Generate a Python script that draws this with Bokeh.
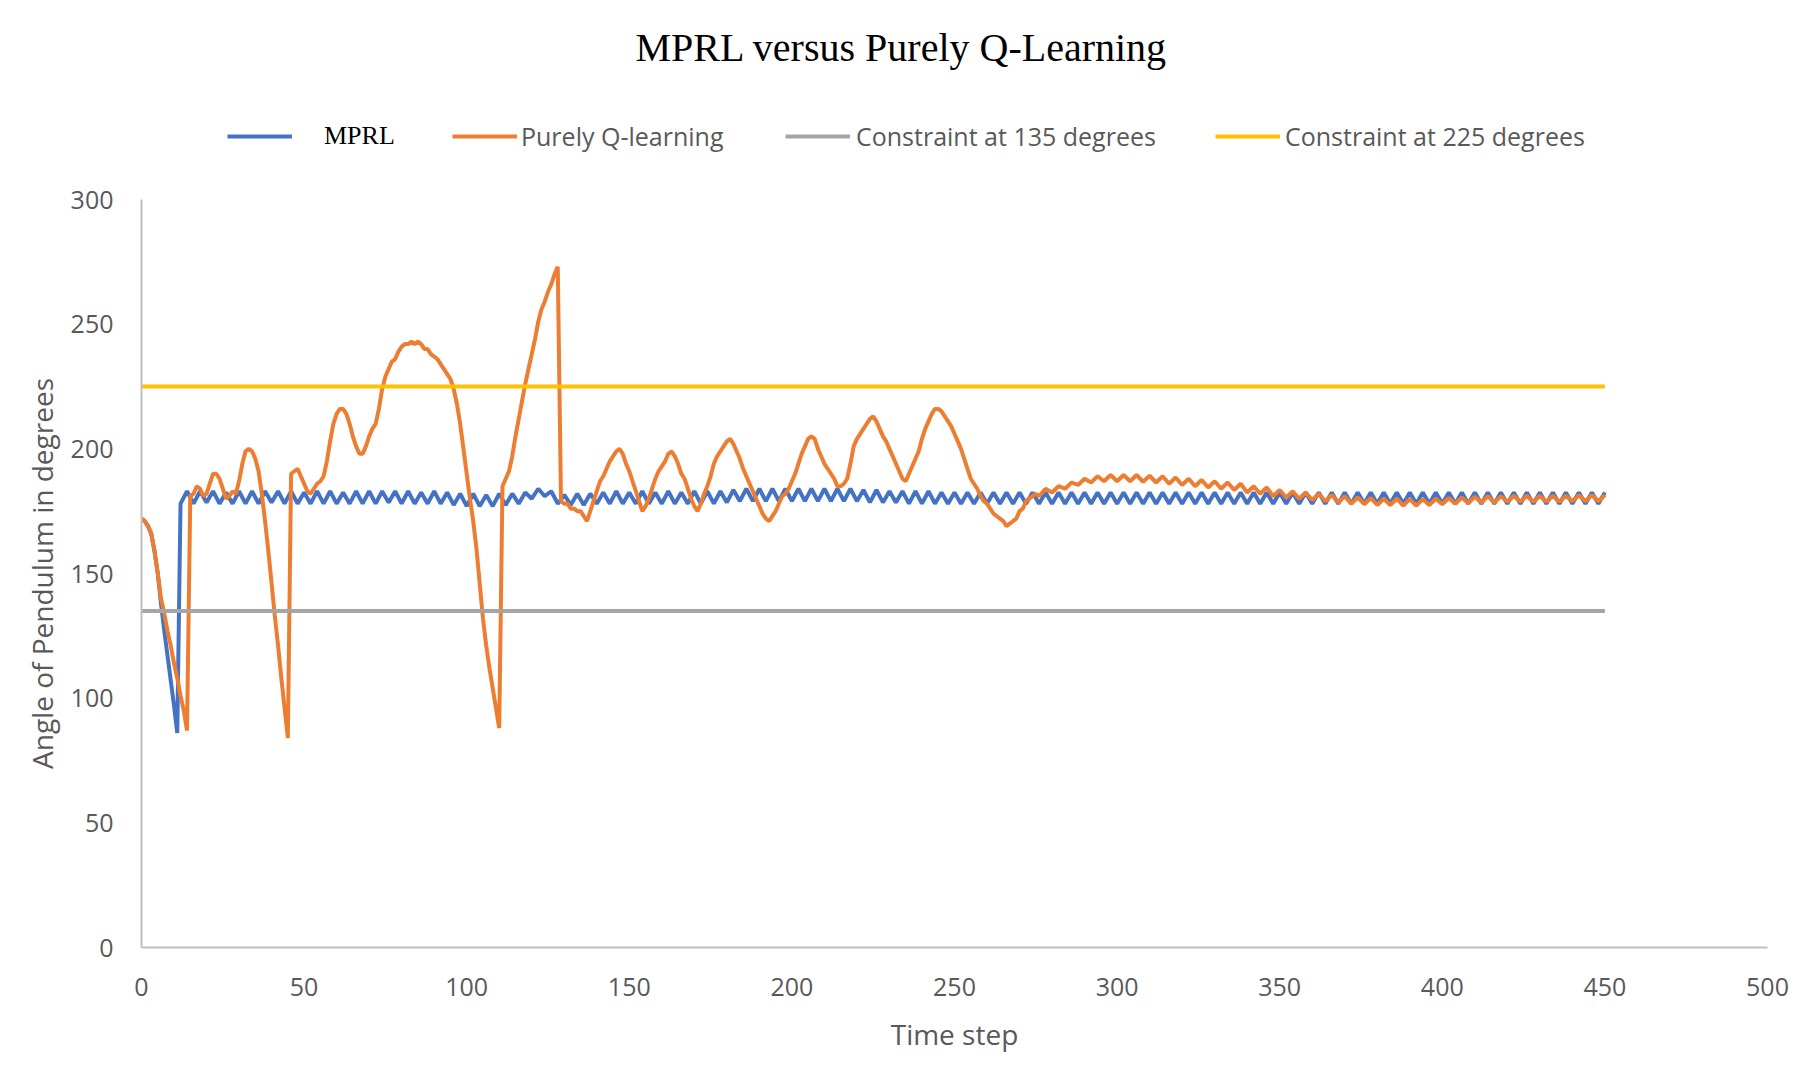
from bokeh.plotting import figure
from bokeh.layouts import column
from bokeh.models import Range1d, FixedTicker, Label, Legend, LegendItem
from bokeh.embed import file_html
from bokeh.resources import INLINE

# ---------------- data ----------------
x_ticks = [0, 50, 100, 150, 200, 250, 300, 350, 400, 450, 500]
y_ticks = [0, 50, 100, 150, 200, 250, 300]

# MPRL: first steps, then the steady oscillation (read every 2 time steps from t=12)
mprl_early = [172, 171, 169, 166, 159, 150, 138, 127, 117, 107, 97, 86]
mprl_osc = [
    178, 183, 178, 183, 178.5, 183, 178, 182.5, 178, 183, 178, 183, 178, 183, 178.5, 183, 178, 183, 178, 182.5,
    178, 183, 178, 183, 178, 182.5, 178, 183, 178, 183, 178, 183, 178.5, 183, 178, 183, 178, 182.5, 178, 183,
    178, 182.5, 177.5, 182, 177, 182, 177, 181.5, 177, 182, 177.5, 182, 178, 182.5, 180, 184, 181, 183, 178, 181.5,
    177.5, 182, 177.5, 182, 178, 182.5, 178, 183, 178, 182.5, 178, 183, 178, 182.5, 178, 183, 178, 182.5, 178, 183,
    178, 183, 178, 183, 178.5, 183.5, 179, 184, 179, 184, 179, 184, 179, 184, 179, 184, 179, 184, 179, 184,
    179, 184, 179, 184, 179, 183.5, 178.5, 183.5, 178.5, 183, 178.5, 183, 178, 183, 178, 183, 178, 182.5, 178, 182.5,
    178, 182.5, 178, 182.5, 178, 182.5, 178, 182.5, 178, 182.5, 178, 182.5, 178, 182.5, 178, 182.5, 178, 182.5, 178, 182.5,
    178, 182.5, 178, 182.5, 178, 182.5, 178, 182.5, 178, 182.5, 178, 182.5, 178, 182.5, 178, 182.5, 178, 182.5, 178, 182.5,
    178, 182.5, 178, 182.5, 178, 182.5, 178, 182.5, 178, 182.5, 178, 182.5, 178, 182.5, 178, 182.5, 178, 182.5, 178, 182.5,
    178, 182.5, 178, 182.5, 178, 182.5, 178, 182.5, 178, 182.5, 178, 182.5, 178, 182.5, 178, 182.5, 178, 182.5, 178, 182.5,
    178, 182.5, 178, 182.5, 178, 182.5, 178, 182.5, 178, 182.5, 178, 182.5, 178, 182.5, 178, 182.5, 178, 182.5, 178, 182.5,
]

# Purely Q-learning: every time step for t = 0..275
qlearn_early = [
    172, 171, 169, 166, 159, 150, 140, 134, 127, 121,
    114, 108, 101, 95, 87, 181, 182, 185, 184, 181,
    182, 186, 190, 190, 188, 184, 180, 181, 183, 182,
    187, 194, 199, 200, 199, 196, 191, 182, 171, 159,
    146, 133, 121, 108, 96, 84, 190, 191, 192, 189,
    186, 183, 182, 184, 186, 187, 189, 195, 203, 210,
    214, 216, 216, 214, 210, 205, 201, 198, 198, 201,
    205, 208, 210, 216, 224, 229, 232, 235, 236, 239,
    241, 242, 242, 243, 242, 243, 242, 240, 240, 238,
    237, 236, 234, 232, 230, 228, 224, 218, 210, 200,
    190, 180, 171, 160, 146, 132, 121, 112, 104, 96,
    88, 185, 188, 191, 197, 205, 212, 219, 226, 232,
    238, 244, 251, 256, 259, 263, 266, 270, 273, 179,
    178, 178, 176, 176, 175, 175, 173, 171, 175, 179,
    183, 187, 189, 192, 195, 197, 199, 200, 198, 194,
    191, 187, 183, 179, 175, 177, 180, 184, 188, 191,
    193, 195, 198, 199, 197, 194, 190, 188, 184, 180,
    177, 175, 178, 182, 185, 189, 194, 197, 199, 201,
    203, 204, 202, 199, 196, 192, 189, 186, 183, 180,
    177, 174, 172, 171, 173, 175, 178, 181, 182, 184,
    187, 190, 194, 198, 201, 204, 205, 204, 200, 197,
    194, 192, 190, 188, 185, 185, 186, 188, 194, 201,
    204, 206, 208, 210, 212, 213, 211, 208, 205, 203,
    200, 197, 194, 191, 188, 187, 190, 193, 196, 199,
    204, 208, 211, 214, 216, 216, 215, 213, 211, 209,
    206, 203, 200, 196, 192, 188, 186, 184, 181, 179,
    178, 176, 174, 173, 172, 171, 169, 170, 171, 172,
    175, 176, 179, 180, 181, 182,
]
# Purely Q-learning: small ripple, read every 2 time steps for t = 276..450
qlearn_late = [
    181, 184, 182.5, 185, 184, 186.5, 185.5, 188, 186.5, 189,
    187, 189.5, 187, 189.5, 187, 189.5, 186.8, 189.2, 186.5, 189,
    186, 188.5, 185.5, 188, 185, 187.5, 184.5, 187, 184, 186.5,
    183.5, 186, 182.5, 185, 182, 184.5, 181, 183.5, 180.5, 183,
    180, 182.5, 179.5, 182, 179, 181.5, 178.5, 181, 178, 180.5,
    177.8, 180.3, 177.5, 180, 177.5, 180, 177.2, 179.8, 177.2, 179.8,
    177.5, 180, 177.8, 180.3, 178, 180.5, 178.2, 180.8, 178.5, 181,
    178.5, 181, 178.8, 181.2, 178.8, 181.2, 178.8, 181.2, 178.8, 181.2,
    178.8, 181.2, 179, 181.4, 179, 181.4, 179, 181.5,
]

constraint_t = [0, 450]
constraint_135 = [135, 135]
constraint_225 = [225, 225]

mprl_t = list(range(0, 12)) + list(range(12, 451, 2))
mprl_v = mprl_early + mprl_osc
qlearn_t = list(range(0, 276)) + list(range(276, 451, 2))
qlearn_v = qlearn_early + qlearn_late

series_names = ["MPRL", "Purely Q-learning", "Constraint at 135 degrees", "Constraint at 225 degrees"]
chart_title = "MPRL versus Purely Q-Learning"

# ---------------- styles ----------------
BLUE = "#4472C4"
ORANGE = "#ED7D31"
GRAY = "#A5A5A5"
YELLOW = "#FFC000"
TXT = "#595959"
AXIS = "#BFBFBF"
SANS = "Open Sans"
SERIF = "Liberation Serif"
W = 1800
HEAD_H = 179
LEFT = 141
RIGHT = 33

# ---------------- header (title + legend) ----------------
head = figure(width=W, height=HEAD_H, output_backend="svg", toolbar_location=None,
              x_range=Range1d(0, 1), y_range=Range1d(0, 1),
              x_axis_type=None, y_axis_type=None,
              min_border_left=LEFT, min_border_right=RIGHT, min_border_top=0, min_border_bottom=0)
head.outline_line_color = None
head.xgrid.grid_line_color = None
head.ygrid.grid_line_color = None

head.add_layout(Label(x=901 - LEFT, y=HEAD_H - 47, x_units="screen", y_units="screen",
                      text=chart_title, text_align="center", text_baseline="alphabetic",
                      text_font=SERIF, text_font_size="40px", text_color="black"))

styles = [(BLUE, 227, 32, SERIF, "26px", "black"),
          (ORANGE, 452, 4, SANS, "25px", TXT),
          (GRAY, 785, 6, SANS, "25px", TXT),
          (YELLOW, 1215, 5, SANS, "25px", TXT)]
for name, (col, lx, stand, font, size, tcol) in zip(series_names, styles):
    # legend-only renderer: a single point draws no line segment
    dummy = head.line([-1], [-1], line_color=col, line_width=4)
    lg = Legend(items=[LegendItem(label=name, renderers=[dummy])],
                location=(lx - LEFT, HEAD_H - 136 - 20), orientation="horizontal",
                padding=0, margin=0, spacing=0,
                glyph_width=65, glyph_height=40, label_height=40,
                label_standoff=stand, label_text_font=font,
                label_text_font_size=size, label_text_color=tcol,
                border_line_color=None, background_fill_alpha=0)
    head.add_layout(lg)

# ---------------- main chart ----------------
p = figure(width=W, height=1086 - HEAD_H, output_backend="svg", toolbar_location=None,
           x_range=Range1d(0, 500), y_range=Range1d(0, 300),
           min_border_left=LEFT, min_border_right=RIGHT, min_border_top=20, min_border_bottom=139)
p.outline_line_color = None
p.xgrid.grid_line_color = None
p.ygrid.grid_line_color = None

for ax, ticks in ((p.xaxis[0], x_ticks), (p.yaxis[0], y_ticks)):
    ax.ticker = FixedTicker(ticks=ticks)
    ax.axis_line_color = AXIS
    ax.axis_line_width = 2
    ax.major_tick_line_color = None
    ax.minor_tick_line_color = None
    ax.major_tick_out = 0
    ax.major_tick_in = 0
    ax.major_label_text_font = SANS
    ax.major_label_text_font_size = "25px"
    ax.major_label_text_color = TXT
    ax.axis_label_text_font = SANS
    ax.axis_label_text_font_size = "28px"
    ax.axis_label_text_color = TXT
    ax.axis_label_text_font_style = "normal"

p.xaxis.axis_label = "Time step"
p.yaxis.axis_label = "Angle of Pendulum in degrees"
p.xaxis.major_label_standoff = 30
p.yaxis.major_label_standoff = 28
p.xaxis.axis_label_standoff = 16
p.yaxis.axis_label_standoff = 7

p.line(mprl_t, mprl_v, line_color=BLUE, line_width=4)
p.line(qlearn_t, qlearn_v, line_color=ORANGE, line_width=4)
p.line(constraint_t, constraint_135, line_color=GRAY, line_width=4)
p.line(constraint_t, constraint_225, line_color=YELLOW, line_width=4)

layout = column(head, p, spacing=0)
open("out.html", "w").write(file_html(layout, INLINE))
